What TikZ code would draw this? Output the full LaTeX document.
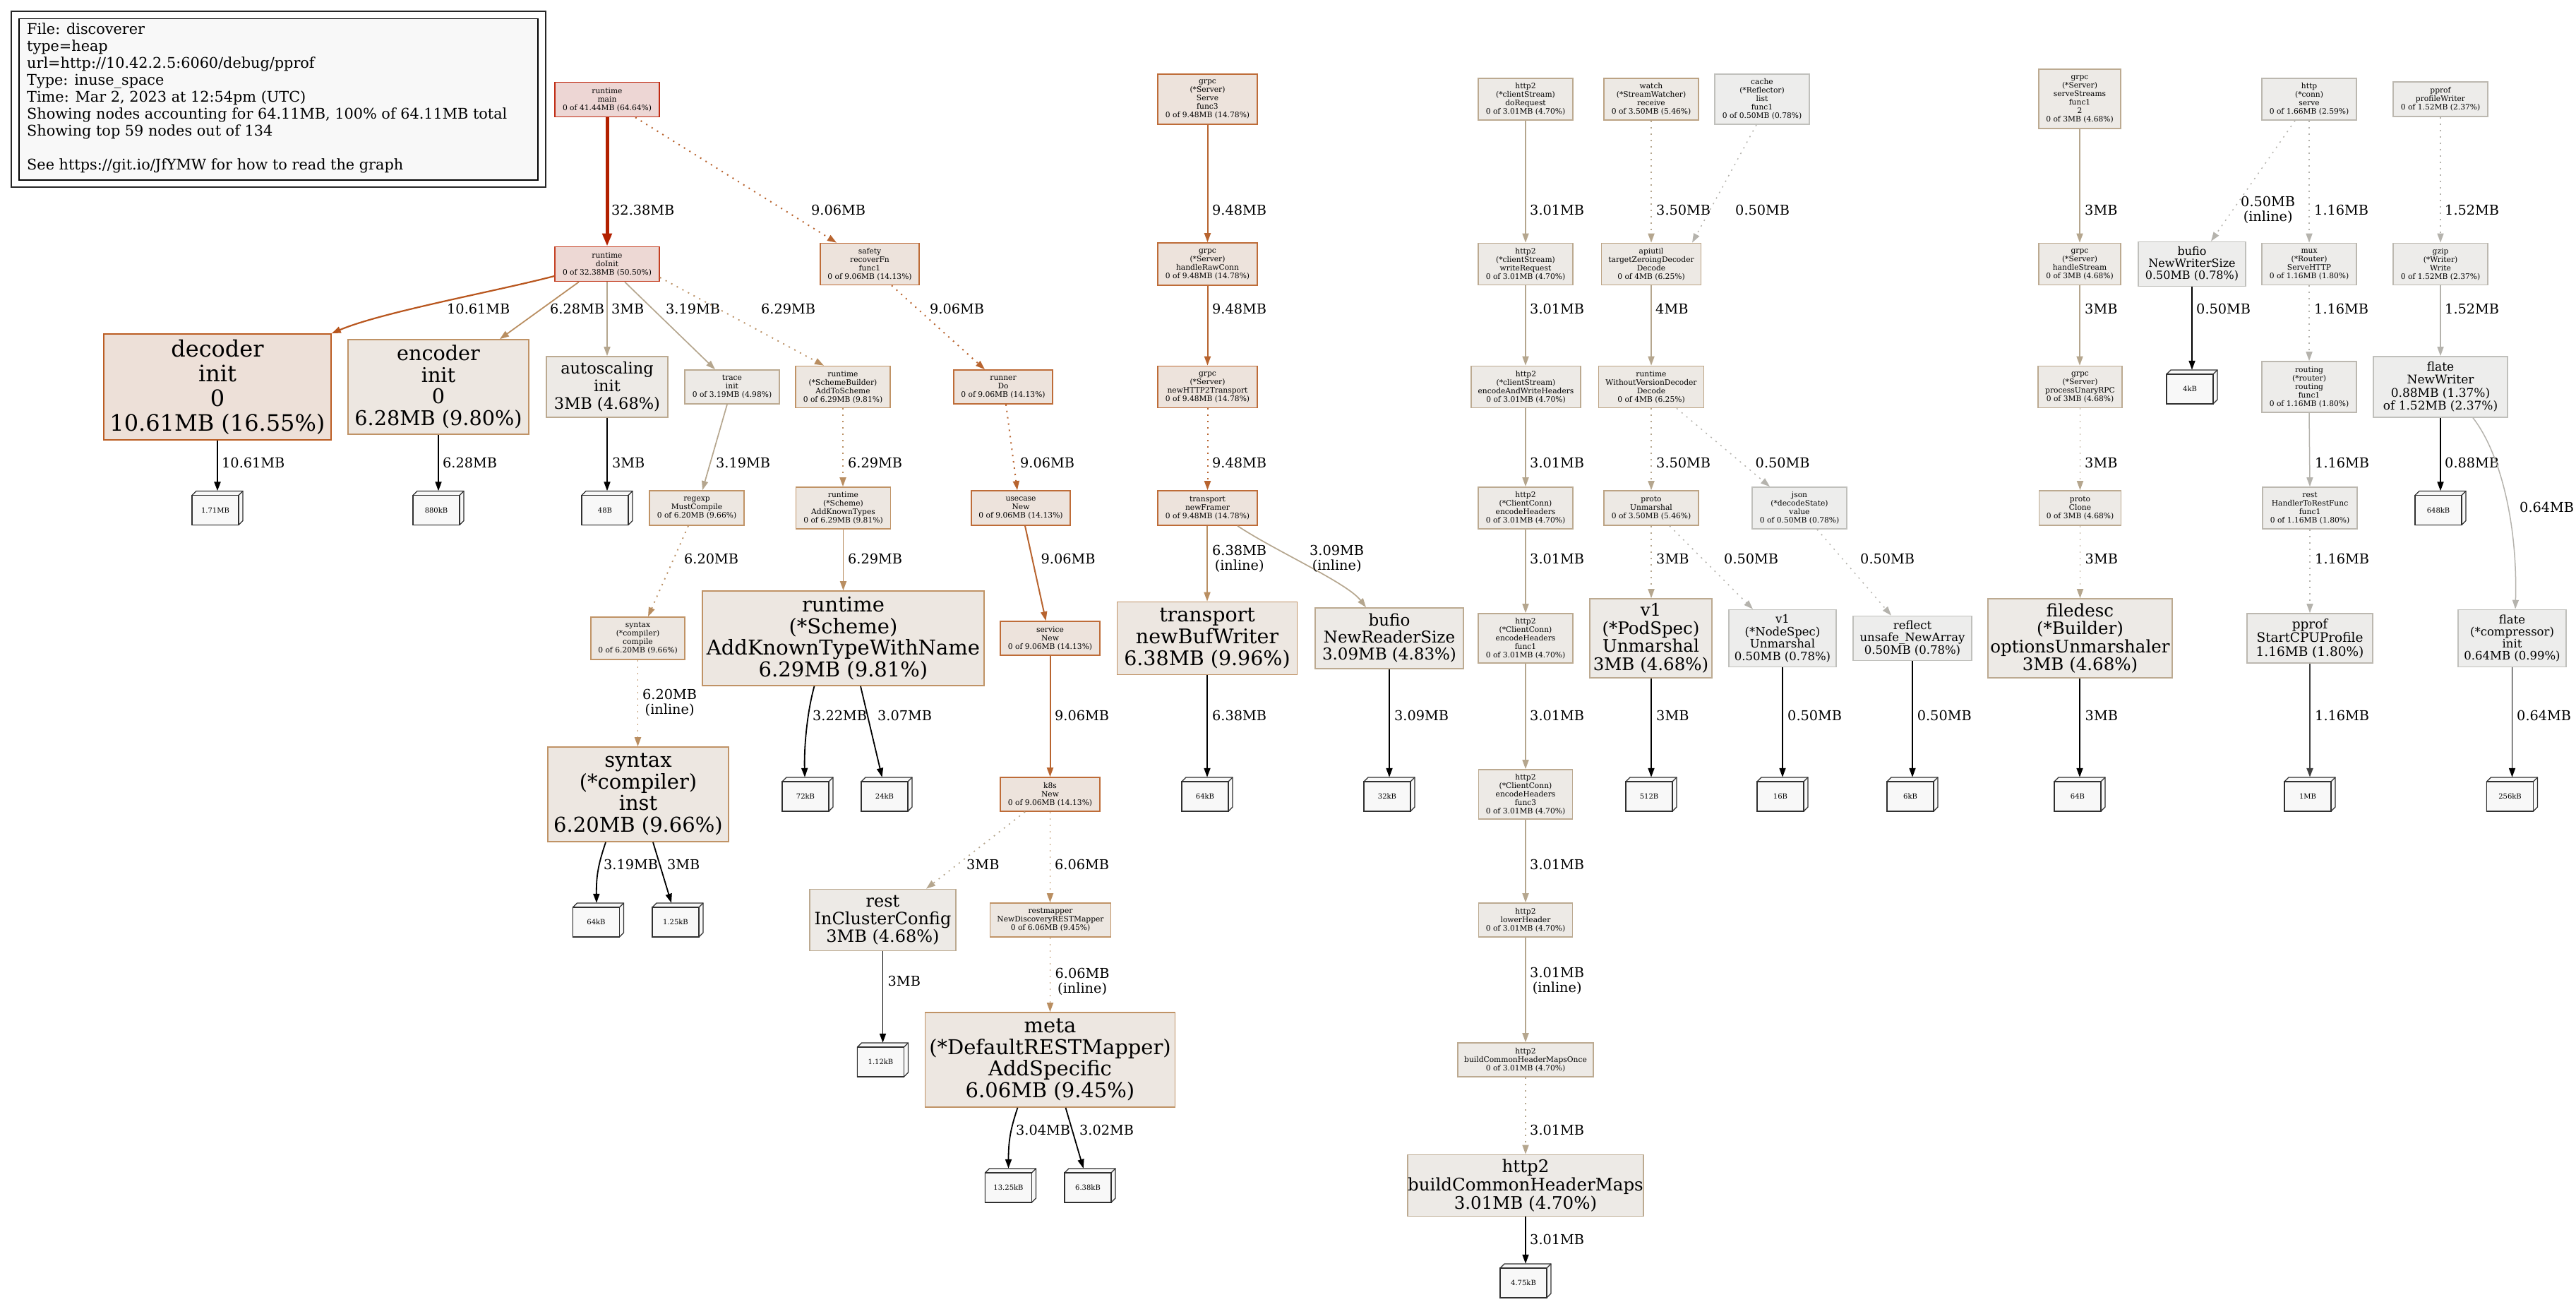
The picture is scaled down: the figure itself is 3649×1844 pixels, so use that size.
\documentclass[tikz,border=0pt]{standalone}
\usepackage{fontspec}
\setmainfont{DejaVu Serif}
\usetikzlibrary{arrows.meta,calc}
\definecolor{mainF}{HTML}{EDD6D4}\definecolor{mainB}{HTML}{C02A12}
\definecolor{doF}{HTML}{EDD8D4}\definecolor{doB}{HTML}{C43F22}
\definecolor{decF}{HTML}{EDE0D8}\definecolor{decB}{HTML}{BB5C22}
\definecolor{orF}{HTML}{EDE3DC}\definecolor{orB}{HTML}{BE6C38}
\definecolor{tanF}{HTML}{EDE7E1}\definecolor{tanB}{HTML}{C09366}
\definecolor{bgF}{HTML}{EDEAE6}\definecolor{bgB}{HTML}{BCAA91}
\definecolor{bgsF}{HTML}{EDE9E4}\definecolor{bgsB}{HTML}{BCA384}
\definecolor{grF}{HTML}{EDECEA}\definecolor{grB}{HTML}{BCB8B0}
\definecolor{groF}{HTML}{EDEDEC}\definecolor{groB}{HTML}{C0C0BC}
\definecolor{leafF}{HTML}{F8F8F8}\definecolor{leafB}{HTML}{303030}
\definecolor{eRed}{HTML}{B22000}\definecolor{eDec}{HTML}{B8561E}
\definecolor{eOr}{HTML}{B8642F}\definecolor{eTan}{HTML}{B98E61}
\definecolor{eBg}{HTML}{B5A68E}\definecolor{eGr}{HTML}{B5B3AD}
\newcommand{\leafbox}[4]{%
  \filldraw[leafline] ({#2-36},{#3-18}) -- ({#2-30},{#3-24}) -- ({#2+36},{#3-24}) -- ({#2+36},{#3+18}) -- ({#2+30},{#3+24}) -- ({#2-36},{#3+24}) -- cycle;
  \draw[leafline] ({#2+30},{#3-18}) -- ({#2+36},{#3-24});
  \node[leafface] (#1f) at ({#2-3},{#3+3}) {#4};
  \node[leafhit] (#1) at (#2,#3) {};
}
\begin{document}
\begin{tikzpicture}[x=1pt,y=-1pt,
 fn/.style={draw, rectangle, line width=1.6pt, inner sep=0pt, align=center, text=black},
 sz/.style 2 args={minimum width=#1, minimum height=#2},
 sm/.style={font=\fontsize{10.7}{12}\selectfont},
 fs/.style 2 args={font=\fontsize{#1}{#2}\selectfont},
 cmain/.style={fill=mainF, draw=mainB},
 cdo/.style={fill=doF, draw=doB},
 cdec/.style={fill=decF, draw=decB},
 cor/.style={fill=orF, draw=orB},
 ctan/.style={fill=tanF, draw=tanB},
 cbg/.style={fill=bgF, draw=bgB},
 cbgs/.style={fill=bgsF, draw=bgsB},
 cgr/.style={fill=grF, draw=grB},
 cgro/.style={fill=groF, draw=groB},
 leafline/.style={draw=leafB, fill=leafF, line width=1.2pt, line join=miter},
 leafface/.style={draw=leafB, fill=leafF, line width=1.6pt, minimum width=66pt, minimum height=42pt, inner sep=0pt, font=\fontsize{10}{12}\selectfont},
 leafhit/.style={inner sep=0pt, minimum width=72pt, minimum height=48pt},
 lb/.style={anchor=west, inner sep=0pt, align=center, font=\fontsize{19.3}{21}\selectfont},
 ed/.style={line width=1.8pt, -{Triangle[length=13pt,width=9pt]}},
 dt/.style={dash pattern=on 2pt off 7pt},
 ered/.style={ed, draw=eRed, line width=5pt, -{Triangle[length=18pt,width=13pt]}},
 eor/.style={ed, draw=eOr, line width=2pt},
 edec/.style={ed, draw=eDec, line width=2.2pt},
 etan/.style={ed, draw=eTan},
 ebg/.style={ed, draw=eBg, line width=1.7pt},
 egr/.style={ed, draw=eGr, line width=1.5pt},
 eblk/.style={ed, draw=black, line width=1.8pt},
]
\useasboundingbox (0,0) rectangle (3649,1844);
% legend
\node[draw=black!85, line width=2pt, sz={757}{249}] (legendbox) at (394.5,140.5) {};
\node[draw=black, fill=leafF, line width=1.6pt, sz={735}{228.5}] (legendin) at (394.5,140.75) {};
\node[anchor=north west, align=left, inner sep=0pt, font=\fontsize{20.8}{24}\selectfont] (legendtxt) at (38,32) {File: discoverer\\type=heap\\url=http://10.42.2.5:6060/debug/pprof\\Type: inuse\_space\\Time: Mar 2, 2023 at 12:54pm (UTC)\\Showing nodes accounting for 64.11MB, 100\% of 64.11MB total\\Showing top 59 nodes out of 134\\[24pt]See https://git.io/JfYMW for how to read the graph};

% row 1
\node[fn,sm,cmain,sz={148}{49}] (main) at (860,141) {runtime\\main\\0 of 41.44MB (64.64\%)};
\node[fn,sm,cor,sz={141}{71}] (serve3) at (1710.5,140.5) {grpc\\(*Server)\\Serve\\func3\\0 of 9.48MB (14.78\%)};
\node[fn,sm,cbg,sz={134}{59}] (doReq) at (2161,140.5) {http2\\(*clientStream)\\doRequest\\0 of 3.01MB (4.70\%)};
\node[fn,sm,cbgs,sz={134}{59}] (watch) at (2339,140.5) {watch\\(*StreamWatcher)\\receive\\0 of 3.50MB (5.46\%)};
\node[fn,sm,cgro,sz={134}{71}] (cache) at (2496,140.5) {cache\\(*Reflector)\\list\\func1\\0 of 0.50MB (0.78\%)};
\node[fn,sm,cbg,sz={116}{84}] (srvStr) at (2946,140) {grpc\\(*Server)\\serveStreams\\func1\\2\\0 of 3MB (4.68\%)};
\node[fn,sm,cgr,sz={134}{59}] (httpSrv) at (3271,140.5) {http\\(*conn)\\serve\\0 of 1.66MB (2.59\%)};
\node[fn,sm,cgr,sz={134}{49}] (profW) at (3457,140.5) {pprof\\profileWriter\\0 of 1.52MB (2.37\%)};

% row 2
\node[fn,sm,cdo,sz={148}{49}] (doInit) at (860,374) {runtime\\doInit\\0 of 32.38MB (50.50\%)};
\node[fn,sm,cor,sz={140}{59}] (safety) at (1232,374) {safety\\recoverFn\\func1\\0 of 9.06MB (14.13\%)};
\node[fn,sm,cor,sz={141}{60}] (handleRaw) at (1710.5,374) {grpc\\(*Server)\\handleRawConn\\0 of 9.48MB (14.78\%)};
\node[fn,sm,cbg,sz={134}{59}] (writeReq) at (2161,374) {http2\\(*clientStream)\\writeRequest\\0 of 3.01MB (4.70\%)};
\node[fn,sm,cbgs,sz={141}{59}] (apiutil) at (2339,374) {apiutil\\targetZeroingDecoder\\Decode\\0 of 4MB (6.25\%)};
\node[fn,sm,cbg,sz={116}{59}] (handleStr) at (2946,374) {grpc\\(*Server)\\handleStream\\0 of 3MB (4.68\%)};
\node[fn,fs={16}{17},cgro,sz={152}{63}] (bufioNWS) at (3105,374) {bufio\\NewWriterSize\\0.50MB (0.78\%)};
\node[fn,sm,cgr,sz={134}{59}] (mux) at (3271,374) {mux\\(*Router)\\ServeHTTP\\0 of 1.16MB (1.80\%)};
\node[fn,sm,cgr,sz={134}{59}] (gzip) at (3457,374) {gzip\\(*Writer)\\Write\\0 of 1.52MB (2.37\%)};

% row 3
\node[fn,fs={32}{35},cdec,sz={322}{150}] (decoder) at (308,548) {decoder\\init\\0\\10.61MB (16.55\%)};
\node[fn,fs={28.7}{30.5},ctan,sz={256}{134}] (encoder) at (621,548) {encoder\\init\\0\\6.28MB (9.80\%)};
\node[fn,fs={22.5}{25},cbg,sz={172}{86}] (autosc) at (860,548) {autoscaling\\init\\3MB (4.68\%)};
\node[fn,sm,cbg,sz={134}{48}] (trace) at (1037,548) {trace\\init\\0 of 3.19MB (4.98\%)};
\node[fn,sm,ctan,sz={134}{59}] (addTo) at (1194,548) {runtime\\(*SchemeBuilder)\\AddToScheme\\0 of 6.29MB (9.81\%)};
\node[fn,sm,cor,sz={140}{48}] (runner) at (1421,548) {runner\\Do\\0 of 9.06MB (14.13\%)};
\node[fn,sm,cor,sz={141}{59}] (newH2) at (1710.5,548) {grpc\\(*Server)\\newHTTP2Transport\\0 of 9.48MB (14.78\%)};
\node[fn,sm,cbg,sz={155}{59}] (encWr) at (2161.5,548) {http2\\(*clientStream)\\encodeAndWriteHeaders\\0 of 3.01MB (4.70\%)};
\node[fn,sm,cbgs,sz={149}{59}] (woVer) at (2339,548) {runtime\\WithoutVersionDecoder\\Decode\\0 of 4MB (6.25\%)};
\node[fn,sm,cbg,sz={119}{59}] (procU) at (2946.5,548) {grpc\\(*Server)\\processUnaryRPC\\0 of 3MB (4.68\%)};
\leafbox{l4kB}{3105}{548}{4kB}
\node[fn,sm,cgr,sz={134}{72}] (routing) at (3271,548) {routing\\(*router)\\routing\\func1\\0 of 1.16MB (1.80\%)};
\node[fn,fs={17}{18.5},cgro,sz={190}{86}] (flateNW) at (3457,548) {flate\\NewWriter\\0.88MB (1.37\%)\\of 1.52MB (2.37\%)};

% row 4
\leafbox{l171}{308}{719.5}{1.71MB}
\leafbox{l880}{621}{719.5}{880kB}
\leafbox{l48}{860}{719.5}{48B}
\node[fn,sm,ctan,sz={134}{49}] (regexp) at (987,719.5) {regexp\\MustCompile\\0 of 6.20MB (9.66\%)};
\node[fn,sm,ctan,sz={134}{59}] (addKT) at (1194.5,719.5) {runtime\\(*Scheme)\\AddKnownTypes\\0 of 6.29MB (9.81\%)};
\node[fn,sm,cor,sz={140}{49}] (usecase) at (1446,719.5) {usecase\\New\\0 of 9.06MB (14.13\%)};
\node[fn,sm,cor,sz={141}{49}] (newFr) at (1710.5,719.5) {transport\\newFramer\\0 of 9.48MB (14.78\%)};
\node[fn,sm,cbg,sz={134}{59}] (encH) at (2161,719.5) {http2\\(*ClientConn)\\encodeHeaders\\0 of 3.01MB (4.70\%)};
\node[fn,sm,cbgs,sz={134}{49}] (protoU) at (2339,719.5) {proto\\Unmarshal\\0 of 3.50MB (5.46\%)};
\node[fn,sm,cgro,sz={134}{59}] (json) at (2549,719.5) {json\\(*decodeState)\\value\\0 of 0.50MB (0.78\%)};
\node[fn,sm,cbg,sz={116}{49}] (protoC) at (2946.5,719.5) {proto\\Clone\\0 of 3MB (4.68\%)};
\node[fn,sm,cgr,sz={134}{59}] (hRest) at (3272,719.5) {rest\\HandlerToRestFunc\\func1\\0 of 1.16MB (1.80\%)};
\leafbox{l648}{3457}{719.5}{648kB}

% row 5
\node[fn,sm,ctan,sz={133}{60}] (compile) at (903.5,904) {syntax\\(*compiler)\\compile\\0 of 6.20MB (9.66\%)};
\node[fn,fs={29}{30.5},ctan,sz={399}{134}] (akTWN) at (1194.5,904) {runtime\\(*Scheme)\\AddKnownTypeWithName\\6.29MB (9.81\%)};
\node[fn,sm,cor,sz={141}{48}] (service) at (1487.5,904) {service\\New\\0 of 9.06MB (14.13\%)};
\node[fn,fs={28.5}{31},ctan,sz={255}{103}] (newBW) at (1710,904) {transport\\newBufWriter\\6.38MB (9.96\%)};
\node[fn,fs={23}{24},cbg,sz={210}{86}] (bufioNRS) at (1968,904) {bufio\\NewReaderSize\\3.09MB (4.83\%)};
\node[fn,sm,cbg,sz={134}{70}] (encHF1) at (2161,904) {http2\\(*ClientConn)\\encodeHeaders\\func1\\0 of 3.01MB (4.70\%)};
\node[fn,fs={24.5}{25.5},cbg,sz={173}{112}] (podSpec) at (2338.5,904) {v1\\(*PodSpec)\\Unmarshal\\3MB (4.68\%)};
\node[fn,fs={16.5}{17.5},cgro,sz={152}{81}] (nodeSpec) at (2525,904) {v1\\(*NodeSpec)\\Unmarshal\\0.50MB (0.78\%)};
\node[fn,fs={16.5}{17.5},cgro,sz={168}{63}] (reflect) at (2709,904) {reflect\\unsafe\_NewArray\\0.50MB (0.78\%)};
\node[fn,fs={24.5}{25.5},cbg,sz={261}{112}] (filedesc) at (2946.5,904) {filedesc\\(*Builder)\\optionsUnmarshaler\\3MB (4.68\%)};
\node[fn,fs={18.5}{19.5},cgr,sz={178}{70}] (startCPU) at (3272,904) {pprof\\StartCPUProfile\\1.16MB (1.80\%)};
\node[fn,fs={16.5}{17.3},cgro,sz={153}{81}] (compr) at (3558.5,904) {flate\\(*compressor)\\init\\0.64MB (0.99\%)};

% row 6
\node[fn,fs={29}{30.5},ctan,sz={256}{134}] (synInst) at (904,1125) {syntax\\(*compiler)\\inst\\6.20MB (9.66\%)};
\leafbox{l72}{1144}{1125}{72kB}
\leafbox{l24}{1256}{1125}{24kB}
\node[fn,sm,cor,sz={141}{48}] (k8s) at (1487.5,1125) {k8s\\New\\0 of 9.06MB (14.13\%)};
\leafbox{l64k}{1710}{1125}{64kB}
\leafbox{l32}{1968}{1125}{32kB}
\node[fn,sm,cbg,sz={133}{70}] (encHF3) at (2161,1125) {http2\\(*ClientConn)\\encodeHeaders\\func3\\0 of 3.01MB (4.70\%)};
\leafbox{l512}{2339}{1125}{512B}
\leafbox{l16}{2525}{1125}{16B}
\leafbox{l6k}{2709}{1125}{6kB}
\leafbox{l64B}{2946}{1125}{64B}
\leafbox{l1MB}{3272}{1125}{1MB}
\leafbox{l256}{3558.5}{1125}{256kB}

% row 7
\leafbox{l64kb}{847.5}{1303}{64kB}
\leafbox{l125}{960}{1303}{1.25kB}
\node[fn,fs={24}{25},cbg,sz={207}{87}] (restICC) at (1250.5,1303) {rest\\InClusterConfig\\3MB (4.68\%)};
\node[fn,sm,ctan,sz={171}{48}] (restmap) at (1488,1303) {restmapper\\NewDiscoveryRESTMapper\\0 of 6.06MB (9.45\%)};
\node[fn,sm,cbg,sz={133}{48}] (lowerH) at (2161,1303) {http2\\lowerHeader\\0 of 3.01MB (4.70\%)};

% row 8
\leafbox{l112}{1250.5}{1501}{1.12kB}
\node[fn,fs={29}{30.5},ctan,sz={354}{134}] (meta) at (1487.5,1501) {meta\\(*DefaultRESTMapper)\\AddSpecific\\6.06MB (9.45\%)};
\node[fn,sm,cbg,sz={192}{48}] (bchmO) at (2161,1501) {http2\\buildCommonHeaderMapsOnce\\0 of 3.01MB (4.70\%)};

% row 9, 10
\leafbox{l1325}{1431.5}{1679}{13.25kB}
\leafbox{l638}{1544}{1679}{6.38kB}
\node[fn,fs={24.5}{26},cbg,sz={334}{87}] (bchm) at (2161,1679) {http2\\buildCommonHeaderMaps\\3.01MB (4.70\%)};
\leafbox{l475}{2161}{1814}{4.75kB}

% ---------- edges ----------
\draw[ered] (main.south) -- (doInit.north);
\node[lb] (e1) at (866,297) {32.38MB};
\draw[eor,dt] ($(main.south)+(40,0)$) -- ($(safety.north)+(-47,0)$);
\node[lb] (e2) at (1149,297) {9.06MB};
\draw[edec] ($(doInit.west)+(0,17)$) .. controls ($(doInit.west)+(-80,38)$) and ($(decoder.north east)+(70,-30)$) .. (decoder.north east);
\node[lb] (e3) at (633,437) {10.61MB};
\draw[etan] ($(doInit.south)+(-40,0)$) -- ($(encoder.north)+(87,0)$);
\node[lb] (e4) at (779,437) {6.28MB};
\draw[ebg] (doInit.south) -- (autosc.north);
\node[lb] (e5) at (866,437) {3MB};
\draw[ebg] ($(doInit.south)+(25,0)$) -- ($(trace.north)+(-24,0)$);
\node[lb] (e6) at (943,437) {3.19MB};
\draw[etan,dt] ($(doInit.east)+(0,19)$) -- ($(addTo.north)+(-27,0)$);
\node[lb] (e7) at (1078,437) {6.29MB};
\draw[eor,dt] ($(safety.south)+(31,0)$) -- ($(runner.north)+(-26,0)$);
\node[lb] (e8) at (1317,437) {9.06MB};
\draw[eor] (serve3.south) -- (handleRaw.north);
\node[lb] (e9) at (1717,297) {9.48MB};
\draw[eor] (handleRaw.south) -- (newH2.north);
\node[lb] (e10) at (1717,437) {9.48MB};
\draw[eor,dt] (newH2.south) -- (newFr.north);
\node[lb] (e11) at (1717,655) {9.48MB};
\draw[ebg] (doReq.south) -- (writeReq.north);
\node[lb] (e12) at (2167,297) {3.01MB};
\draw[ebg] (writeReq.south) -- ($(encWr.north)+(-0.5,0)$);
\node[lb] (e13) at (2167,437) {3.01MB};
\draw[ebg] ($(encWr.south)+(-0.5,0)$) -- (encH.north);
\node[lb] (e14) at (2167,655) {3.01MB};
\draw[ebg,dt] (watch.south) -- (apiutil.north);
\node[lb] (e15) at (2346,297) {3.50MB};
\draw[egr,dt] ($(cache.south)+(-8,0)$) -- ($(apiutil.north)+(58,0)$);
\node[lb] (e16) at (2458,297) {0.50MB};
\draw[ebg] (apiutil.south) -- (woVer.north);
\node[lb] (e17) at (2345,437) {4MB};
\draw[ebg,dt] (woVer.south) -- (protoU.north);
\node[lb] (e18) at (2346,655) {3.50MB};
\draw[egr,dt] ($(woVer.south)+(36,0)$) -- ($(json.north)+(-42,0)$);
\node[lb] (e19) at (2486.5,655) {0.50MB};
\draw[ebg] (srvStr.south) -- (handleStr.north);
\node[lb] (e20) at (2953,297) {3MB};
\draw[ebg] (handleStr.south) -- ($(procU.north)+(-0.5,0)$);
\node[lb] (e21) at (2953,437) {3MB};
\draw[ebg,dt] (procU.south) -- (protoC.north);
\node[lb] (e22) at (2953,655) {3MB};
\draw[egr,dt] ($(httpSrv.south)+(-20,0)$) -- ($(bufioNWS.north)+(27,0)$);
\node[lb] (e23) at (3174,297.5) {0.50MB\\(inline)};
\draw[egr,dt] (httpSrv.south) -- (mux.north);
\node[lb] (e24) at (3278,297) {1.16MB};
\draw[egr,dt] (profW.south) -- (gzip.north);
\node[lb] (e25) at (3463,297) {1.52MB};
\draw[eblk] (bufioNWS.south) -- (l4kB.north);
\node[lb] (e26) at (3111,437) {0.50MB};
\draw[egr,dt] (mux.south) -- (routing.north);
\node[lb] (e27) at (3278,437) {1.16MB};
\draw[egr] (gzip.south) -- (flateNW.north);
\node[lb] (e28) at (3463,437) {1.52MB};
\draw[eblk,line width=2.4pt] (decoder.south) -- (l171.north);
\node[lb] (e29) at (314,655) {10.61MB};
\draw[eblk] (encoder.south) -- (l880.north);
\node[lb] (e30) at (627,655) {6.28MB};
\draw[eblk] (autosc.south) -- (l48.north);
\node[lb] (e31) at (867,655) {3MB};
\draw[ebg] ($(trace.south)+(-7,0)$) -- ($(regexp.north)+(8,0)$);
\node[lb] (e32) at (1014,655) {3.19MB};
\draw[etan,dt] (addTo.south) -- ($(addKT.north)+(-0.5,0)$);
\node[lb] (e33) at (1201,655) {6.29MB};
\draw[eor,dt] ($(runner.south)+(4,0)$) -- ($(usecase.north)+(-5,0)$);
\node[lb] (e34) at (1445,655) {9.06MB};
\draw[egr] (routing.south) -- (hRest.north);
\node[lb] (e35) at (3279,655) {1.16MB};
\draw[eblk] (flateNW.south) -- (l648.north);
\node[lb] (e36) at (3463,655) {0.88MB};
\draw[egr] ($(flateNW.south)+(46,0)$) .. controls ($(flateNW.south)+(85,50)$) and ($(compr.north)+(8,-120)$) .. ($(compr.north)+(4.5,0)$);
\node[lb] (e37) at (3569,718) {0.64MB};
\draw[etan,dt] ($(regexp.south)+(-12,0)$) -- ($(compile.north)+(14.5,0)$);
\node[lb] (e38) at (969,791) {6.20MB};
\draw[etan] (addKT.south) -- (akTWN.north);
\node[lb] (e39) at (1201,791) {6.29MB};
\draw[eor] ($(usecase.south)+(6,0)$) -- ($(service.north)+(-6,0)$);
\node[lb] (e40) at (1474.5,791) {9.06MB};
\draw[etan] ($(newFr.south)+(-0.5,0)$) -- (newBW.north);
\node[lb] (e41) at (1717,791.5) {6.38MB\\(inline)};
\draw[ebg] ($(newFr.south)+(42.5,0)$) .. controls ($(newFr.south)+(95,35)$) and ($(bufioNRS.north)+(-60,-35)$) .. ($(bufioNRS.north)+(-33,0)$);
\node[lb] (e42) at (1855,791.5) {3.09MB\\(inline)};
\draw[ebg] (encH.south) -- (encHF1.north);
\node[lb] (e43) at (2167,791) {3.01MB};
\draw[ebg,dt] (protoU.south) -- ($(podSpec.north)+(0.5,0)$);
\node[lb] (e44) at (2346,791) {3MB};
\draw[egr,dt] ($(protoU.south)+(26,0)$) -- ($(nodeSpec.north)+(-42,0)$);
\node[lb] (e45) at (2442,791) {0.50MB};
\draw[egr,dt] ($(json.south)+(25,0)$) -- ($(reflect.north)+(-30,0)$);
\node[lb] (e46) at (2635,791) {0.50MB};
\draw[ebg,dt] (protoC.south) -- (filedesc.north);
\node[lb] (e47) at (2953.5,791) {3MB};
\draw[egr,dt] (hRest.south) -- (startCPU.north);
\node[lb] (e48) at (3279,791) {1.16MB};
\draw[etan,dt] (compile.south) -- ($(synInst.north)+(-0.5,0)$);
\node[lb] (e49) at (910,995.5) {6.20MB\\(inline)};
\draw[eblk] ($(akTWN.south)+(-41,0)$) .. controls ($(akTWN.south)+(-52,40)$) and ($(l72.north)+(-5,-40)$) .. ($(l72.north)+(-4,0)$);
\node[lb] (e50) at (1151,1013) {3.22MB};
\draw[eblk] ($(akTWN.south)+(24.5,0)$) -- ($(l24.north)+(-6.5,0)$);
\node[lb] (e51) at (1243,1013) {3.07MB};
\draw[eor] (service.south) -- (k8s.north);
\node[lb] (e52) at (1494,1013) {9.06MB};
\draw[eblk] (newBW.south) -- (l64k.north);
\node[lb] (e53) at (1717,1013) {6.38MB};
\draw[eblk] (bufioNRS.south) -- (l32.north);
\node[lb] (e54) at (1975,1013) {3.09MB};
\draw[ebg] (encHF1.south) -- (encHF3.north);
\node[lb] (e55) at (2167,1013) {3.01MB};
\draw[eblk] ($(podSpec.south)+(0.5,0)$) -- (l512.north);
\node[lb] (e56) at (2346,1013) {3MB};
\draw[eblk] (nodeSpec.south) -- (l16.north);
\node[lb] (e57) at (2532,1013) {0.50MB};
\draw[eblk] (reflect.south) -- (l6k.north);
\node[lb] (e58) at (2715.6,1013) {0.50MB};
\draw[eblk] ($(filedesc.south)+(-0.5,0)$) -- (l64B.north);
\node[lb] (e59) at (2953.5,1013) {3MB};
\draw[eblk,draw=black!75,line width=2.4pt] (startCPU.south) -- (l1MB.north);
\node[lb] (e60) at (3279,1013) {1.16MB};
\draw[eblk] (compr.south) -- (l256.north);
\node[lb] (e61) at (3565,1013) {0.64MB};
\draw[eblk] ($(synInst.south)+(-46,0)$) .. controls ($(synInst.south)+(-56,30)$) and ($(l64kb.north)+(-3,-40)$) .. ($(l64kb.north)+(-2.5,0)$);
\node[lb] (e62) at (855,1224) {3.19MB};
\draw[eblk] ($(synInst.south)+(21,0)$) -- ($(l125.north)+(-9,0)$);
\node[lb] (e63) at (945,1224) {3MB};
\draw[ebg,dt] ($(k8s.south)+(-35.5,0)$) -- ($(restICC.north)+(61.5,0)$);
\node[lb] (e64) at (1369,1224) {3MB};
\draw[etan,dt] (k8s.south) -- ($(restmap.north)+(-0.5,0)$);
\node[lb] (e65) at (1494,1224) {6.06MB};
\draw[ebg] (encHF3.south) -- (lowerH.north);
\node[lb] (e66) at (2167,1224) {3.01MB};
\draw[eblk] (restICC.south) -- (l112.north);
\node[lb] (e67) at (1257.5,1389.5) {3MB};
\draw[etan,dt] ($(restmap.south)+(-0.5,0)$) -- (meta.north);
\node[lb] (e68) at (1494.5,1390) {6.06MB\\(inline)};
\draw[ebg] (lowerH.south) -- (bchmO.north);
\node[lb] (e69) at (2167,1389.5) {3.01MB\\(inline)};
\draw[eblk] ($(meta.south)+(-46,0)$) .. controls ($(meta.south)+(-56,30)$) and ($(l1325.north)+(-3,-40)$) .. ($(l1325.north)+(-3,0)$);
\node[lb] (e70) at (1439,1600) {3.04MB};
\draw[eblk] ($(meta.south)+(22,0)$) -- ($(l638.north)+(-9.3,0)$);
\node[lb] (e71) at (1529,1600) {3.02MB};
\draw[ebg,dt] (bchmO.south) -- (bchm.north);
\node[lb] (e72) at (2167,1600) {3.01MB};
\draw[eblk] (bchm.south) -- (l475.north);
\node[lb] (e73) at (2167,1755) {3.01MB};
\end{tikzpicture}
\end{document}
